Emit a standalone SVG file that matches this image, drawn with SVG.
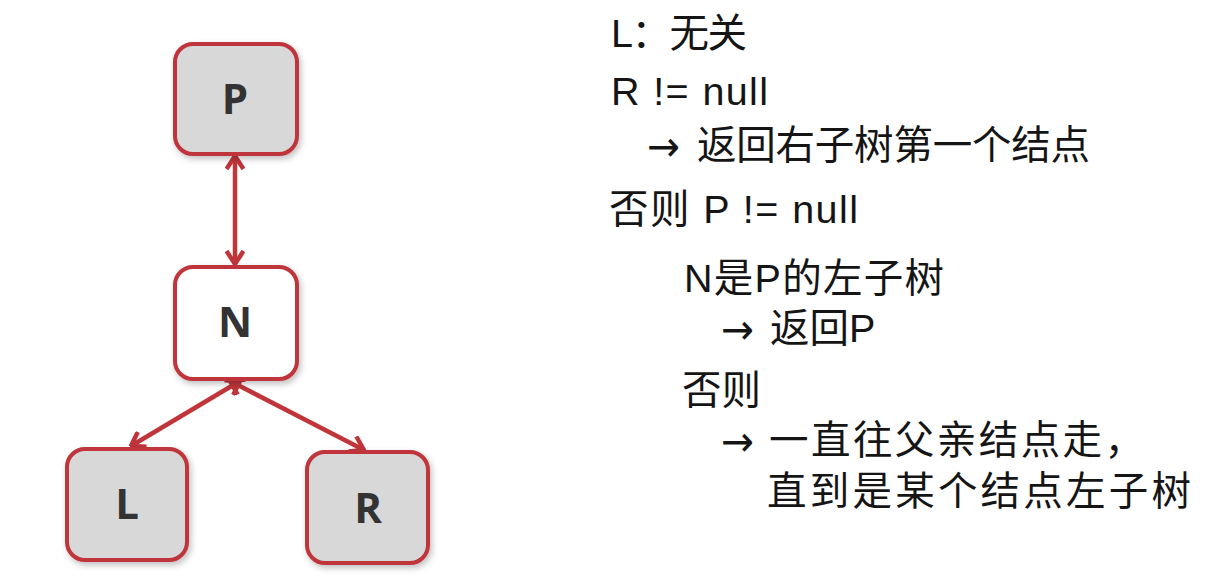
<svg xmlns="http://www.w3.org/2000/svg" width="1209" height="582" viewBox="0 0 1209 582">
<defs>
<style>
.box{stroke:#c0353a;stroke-width:4}
.grey{fill:#d8d8d8}
.white{fill:#ffffff}
.lbl{font-family:"Open Sans","DejaVu Sans",sans-serif;font-weight:bold;font-size:42px;fill:#333333;text-anchor:middle}
.edge{stroke:#c0353a;stroke-width:4.5;fill:none;marker-start:url(#ah);marker-end:url(#ah)}
.t{font-family:"Liberation Sans","Noto Sans CJK SC",sans-serif;font-size:39.5px;fill:#151515}
.ar{font-family:"DejaVu Sans",sans-serif;font-size:42px;fill:#151515}
</style>
<marker id="ah" viewBox="0 0 16 20" refX="14.5" refY="10" markerWidth="16" markerHeight="20" markerUnits="userSpaceOnUse" orient="auto-start-reverse">
<path d="M1.5,1.5 L14.5,10 L1.5,18.5" fill="none" stroke="#c0353a" stroke-width="4.5" stroke-linejoin="miter"/>
</marker>
<filter id="sh" x="-20%" y="-20%" width="140%" height="140%">
<feDropShadow dx="2" dy="3" stdDeviation="3" flood-color="#000" flood-opacity="0.25"/>
</filter>
</defs>
<rect width="1209" height="582" fill="#ffffff"/>
<g id="connectors">
<line class="edge" x1="235" y1="156" x2="235" y2="264"/>
<line class="edge" x1="240" y1="381" x2="131" y2="446"/>
<line class="edge" x1="230" y1="381" x2="364" y2="450"/>
</g>
<g id="node-P">
<rect class="box grey" x="175" y="44" width="122" height="110" rx="18" filter="url(#sh)"/>
<text class="lbl" x="235" y="114">P</text>
</g>
<g id="node-N">
<rect class="box white" x="175" y="267" width="122" height="112" rx="18" filter="url(#sh)"/>
<text class="lbl" x="235" y="337">N</text>
</g>
<g id="node-L">
<rect class="box grey" x="67" y="449" width="120" height="111" rx="18" filter="url(#sh)"/>
<text class="lbl" x="127" y="519">L</text>
</g>
<g id="node-R">
<rect class="box grey" x="307" y="452" width="121" height="111" rx="18" filter="url(#sh)"/>
<text class="lbl" x="368" y="523">R</text>
</g>
<g id="notes">
<text class="t" x="611" y="47" textLength="136" lengthAdjust="spacing">L：无关</text>
<text class="t" x="611" y="105" textLength="157" lengthAdjust="spacing">R != null</text>
<text class="ar" x="647" y="161" textLength="33" lengthAdjust="spacingAndGlyphs">→</text>
<text class="t" x="697" y="159" textLength="393" lengthAdjust="spacing">返回右子树第一个结点</text>
<text class="t" x="609" y="223" textLength="249" lengthAdjust="spacing">否则 P != null</text>
<text class="t" x="684" y="292" textLength="260" lengthAdjust="spacing">N是P的左子树</text>
<text class="ar" x="721" y="344" textLength="33" lengthAdjust="spacingAndGlyphs">→</text>
<text class="t" x="770" y="342">返回P</text>
<text class="t" x="682" y="404">否则</text>
<text class="ar" x="721" y="456" textLength="33" lengthAdjust="spacingAndGlyphs">→</text>
<text class="t" x="769" y="454" textLength="375" lengthAdjust="spacing">一直往父亲结点走，</text>
<text class="t" x="767" y="505" textLength="424" lengthAdjust="spacing">直到是某个结点左子树</text>
</g>
</svg>
